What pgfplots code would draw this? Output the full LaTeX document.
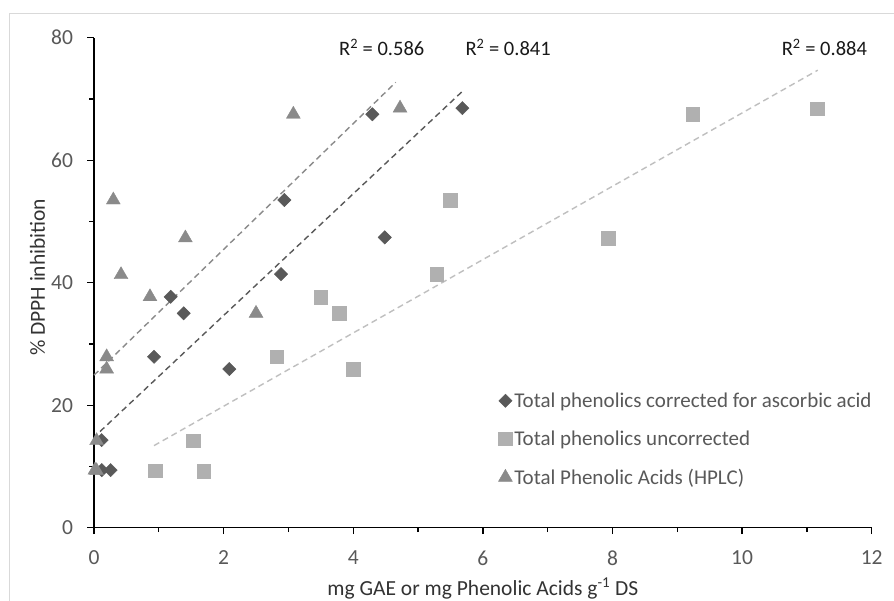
\documentclass[border=0pt]{standalone}
\usepackage{fontspec}
\setmainfont{Carlito}
\usepackage{pgfplots}
\pgfplotsset{compat=1.18}
\definecolor{dia}{HTML}{595959}
\definecolor{sq}{HTML}{B0B0B0}
\definecolor{tri}{HTML}{8A8A8A}
\definecolor{sqline}{HTML}{BFBFBF}
\definecolor{tick}{HTML}{595959}
\definecolor{lab}{HTML}{333333}
\begin{document}
\begin{tikzpicture}
\useasboundingbox (-94pt,-73.3pt) rectangle (800pt,527.7pt);
\fill[white] (-94pt,-73.3pt) rectangle (800pt,527.7pt);
\draw[color={rgb,255:red,217;green,217;blue,217}, line width=1pt] (-84pt,-74pt) -- (-84pt,514.4pt) -- (801pt,514.4pt);
\begin{axis}[
  scale only axis, width=777.7pt, height=490pt,
  xmin=0, xmax=12, ymin=0, ymax=80,
  xtick={0,2,...,12}, minor xtick={1,3,...,11},
  ytick={0,20,...,80}, minor ytick={10,30,50,70},
  axis lines=left, axis line style={black, line width=1.5pt, -},
  tick align=outside, major tick length=6.5pt, minor tick length=4.5pt,
  every tick/.style={black, line width=1.3pt},
  tick label style={font=\fontsize{21.5}{25}\selectfont, text=tick},
  /pgf/number format/assume math mode=true,
  xticklabel style={yshift=-13pt},
  yticklabel style={xshift=-11pt},
  xlabel={mg GAE or mg Phenolic Acids g\textsuperscript{-1} DS},
  ylabel={\% DPPH inhibition},
  label style={font=\fontsize{21.5}{25}\selectfont, text=lab},
  xlabel style={at={(rel axis cs:0.5,-0.1237)}, anchor=center},
  ylabel style={at={(rel axis cs:-0.0727,0.511)}, anchor=center},
  clip=false,
  legend style={draw=none, fill=none, font=\fontsize{21}{25}\selectfont, text=tick,
    at={(rel axis cs:0.516,0.284)}, anchor=north west, row sep=18pt,
    legend cell align=left},
  legend image code/.code={\draw plot coordinates {(0.12cm,0cm)};},
]
% trendlines
\addplot[forget plot, tri, line width=1.4pt, dash pattern=on 6pt off 4pt] coordinates {(0,24.9) (4.655,72.7)};
\addplot[forget plot, dia, line width=1.4pt, dash pattern=on 6pt off 4pt] coordinates {(0.093,15.7) (5.7,71.4)};
\addplot[forget plot, sqline, line width=1.4pt, dash pattern=on 6pt off 4pt] coordinates {(0.926,13.4) (11.168,74.7)};
% data
\addplot[only marks, mark=square*, mark size=4.7pt, mark options={rotate=45, fill=dia, draw=dia}] coordinates {
(4.295,67.5) (2.937,53.5) (4.486,47.4) (2.886,41.4) (1.183,37.7) (1.384,35.0)
(0.926,27.9) (2.088,25.9) (0.118,14.3) (0.257,9.4) (0.12,9.4) (5.684,68.5)};
\addlegendentry{Total phenolics corrected for ascorbic acid}
\addplot[only marks, mark=square*, mark size=6.8pt, mark options={fill=sq, draw=sq}] coordinates {
(3.498,37.6) (3.786,35.0) (2.819,27.9) (4.0,25.9) (1.528,14.2) (0.941,9.3)
(1.693,9.2) (5.288,41.4) (5.499,53.5) (7.937,47.3) (9.238,67.5) (11.157,68.4)};
\addlegendentry{Total phenolics uncorrected}
\addplot[only marks, mark=triangle*, mark size=8pt, mark options={fill=tri, draw=tri}] coordinates {
(3.076,67.5) (4.722,68.5) (0.298,53.5) (1.41,47.3) (0.417,41.3) (0.864,37.7)
(2.5,35.0) (0.195,27.9) (0.195,25.9) (0.04,14.2) (0.04,9.3) (0.015,9.4)};
\addlegendentry{Total Phenolic Acids (HPLC)}
\node[font=\fontsize{20.5}{24}\selectfont, text=black!90] at (axis cs:4.44,78.4) {R\textsuperscript{2} = 0.586};
\node[font=\fontsize{20.5}{24}\selectfont, text=black!90] at (axis cs:6.39,78.4) {R\textsuperscript{2} = 0.841};
\node[font=\fontsize{20.5}{24}\selectfont, text=black!90] at (axis cs:11.27,78.4) {R\textsuperscript{2} = 0.884};
\end{axis}
\end{tikzpicture}
\end{document}
